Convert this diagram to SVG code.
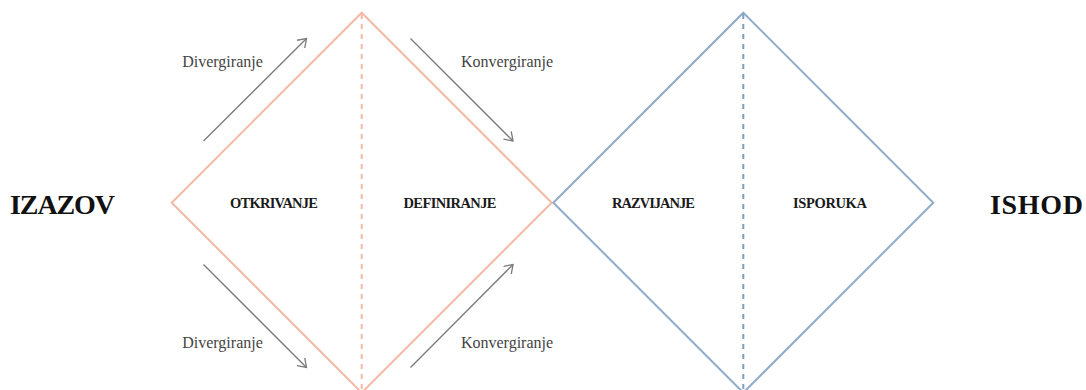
<svg xmlns="http://www.w3.org/2000/svg" width="1086" height="390" viewBox="0 0 1086 390">
<defs>
<style>
.pink{fill:none;stroke:#F3B9A5;stroke-width:2}
.blue{fill:none;stroke:#8FABC8;stroke-width:2}
.dpink{stroke:#F3B9A5;stroke-width:2;stroke-dasharray:5 5}
.dblue{stroke:#7F9DBE;stroke-width:2;stroke-dasharray:5 5}
.arr{stroke:#7a7a7a;stroke-width:1.3;fill:none;marker-end:url(#ah)}
.lbl{font-family:"Liberation Serif","DejaVu Serif",serif;font-size:16px;fill:#444;text-anchor:middle}
.phase{font-family:"Liberation Serif","DejaVu Serif",serif;font-size:14.5px;font-weight:bold;fill:#1a1a1a;text-anchor:middle}
.big{font-family:"Liberation Serif","DejaVu Serif",serif;font-size:28px;font-weight:bold;fill:#111;text-anchor:middle}
</style>
<marker id="ah" markerWidth="12" markerHeight="12" refX="10" refY="6" orient="auto" markerUnits="userSpaceOnUse">
<path d="M2,0.5 L10,6 L2,11.5" fill="none" stroke="#7a7a7a" stroke-width="1.3"/>
</marker>
</defs>
<rect width="1086" height="390" fill="#fff"/>
<g id="diamond-discover">
<path class="pink" d="M361.7,12.7 L551.7,202.7 L361.7,392.7 L171.7,202.7 Z"/>
<line class="dpink" x1="361.7" y1="14" x2="361.7" y2="392"/>
</g>
<g id="diamond-develop">
<path class="blue" d="M743.3,12.7 L933.3,202.7 L743.3,392.7 L553.3,202.7 Z"/>
<line class="dblue" x1="743.3" y1="14" x2="743.3" y2="392"/>
</g>
<g id="connectors">
<line class="arr" x1="203.5" y1="141" x2="306.5" y2="38.5"/>
<line class="arr" x1="410.5" y1="38.5" x2="513" y2="141"/>
<line class="arr" x1="203.5" y1="264.5" x2="306.5" y2="367.5"/>
<line class="arr" x1="410.5" y1="367.5" x2="513" y2="264.5"/>
</g>
<g id="labels">
<text class="lbl" x="222.5" y="67">Divergiranje</text>
<text class="lbl" x="507" y="67">Konvergiranje</text>
<text class="lbl" x="222.5" y="348">Divergiranje</text>
<text class="lbl" x="507" y="348">Konvergiranje</text>
</g>
<g id="node-izazov"><text class="big" x="62.5" y="214" textLength="105">IZAZOV</text></g>
<g id="node-otkrivanje"><text class="phase" x="274" y="208" textLength="88">OTKRIVANJE</text></g>
<g id="node-definiranje"><text class="phase" x="450" y="208" textLength="93">DEFINIRANJE</text></g>
<g id="node-razvijanje"><text class="phase" x="653.5" y="208" textLength="83">RAZVIJANJE</text></g>
<g id="node-isporuka"><text class="phase" x="830" y="208" textLength="74">ISPORUKA</text></g>
<g id="node-ishod"><text class="big" x="1036.5" y="214" textLength="93">ISHOD</text></g>
</svg>
